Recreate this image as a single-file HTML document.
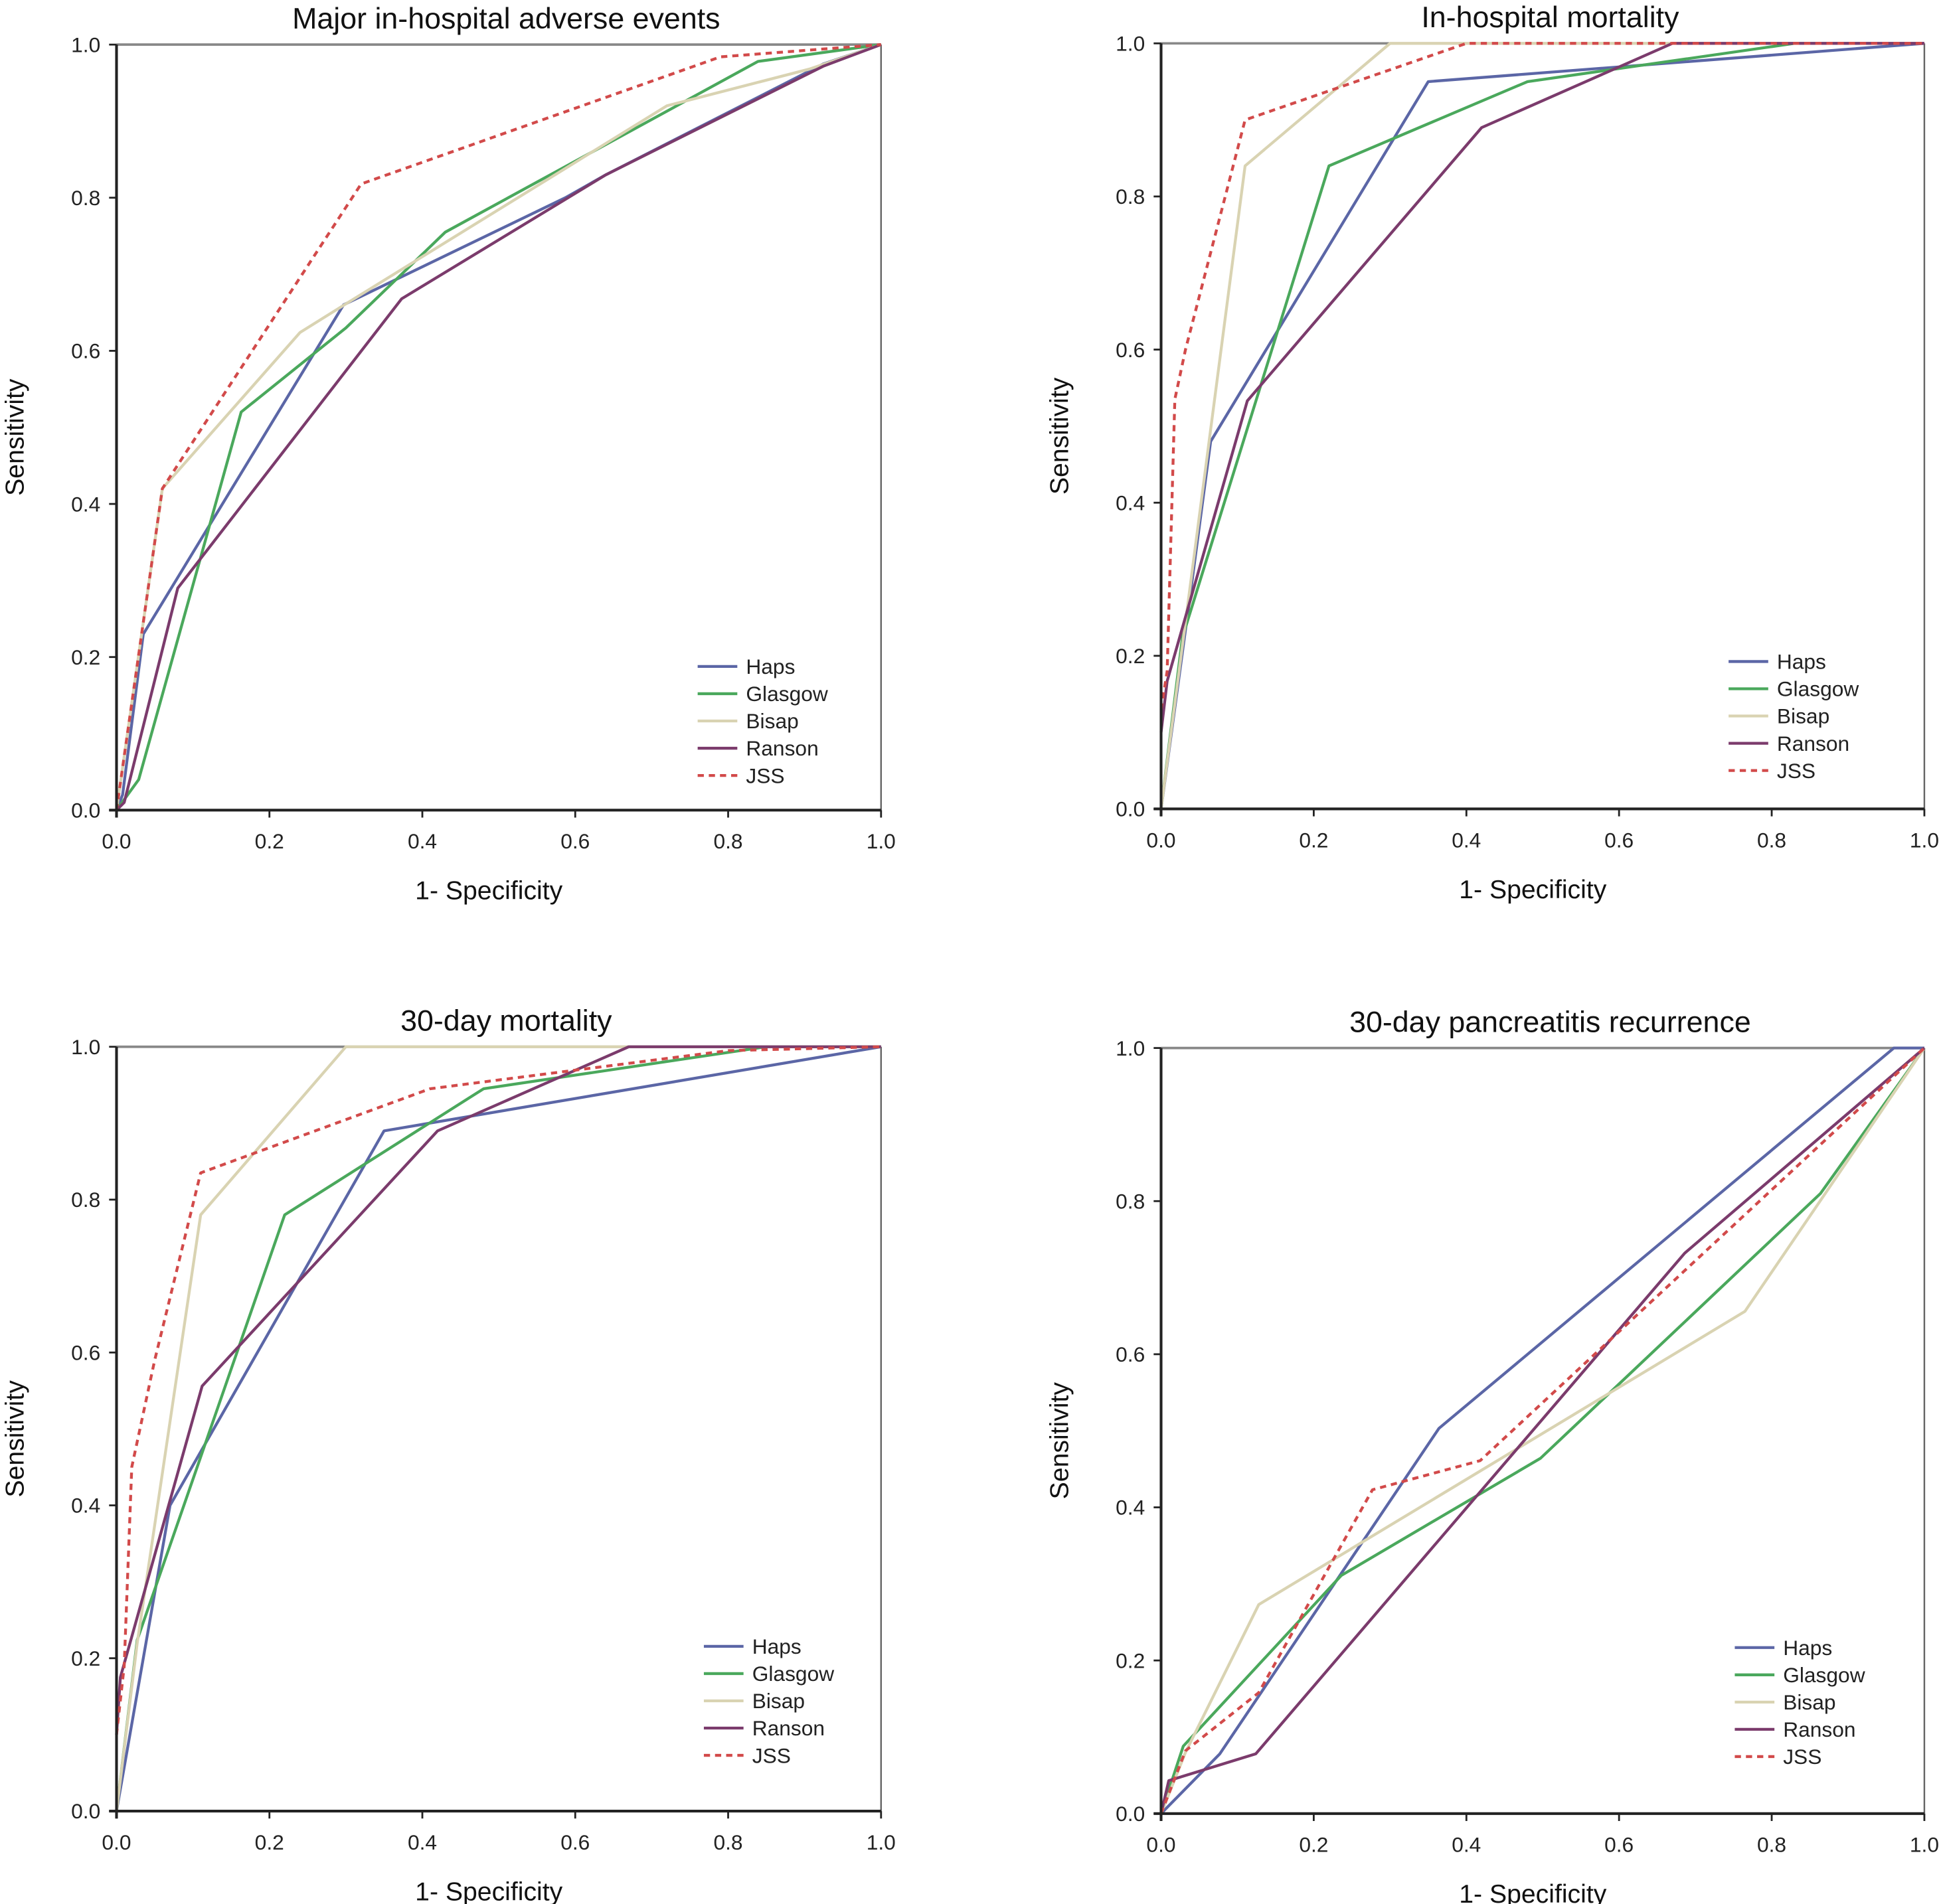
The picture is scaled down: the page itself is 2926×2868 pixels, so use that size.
<!DOCTYPE html>
<html><head><meta charset="utf-8">
<style>
html,body{margin:0;padding:0;background:#fff;}
svg{display:block;font-family:"Liberation Sans",sans-serif;}
</style></head>
<body>
<svg id="chart" width="2926" height="2868" viewBox="0 0 1568 1537" xmlns="http://www.w3.org/2000/svg"></svg>
<script>
// ---------- data ----------
const seriesNames = ["Haps","Glasgow","Bisap","Ranson","JSS"];
const tickValues = [0,0.2,0.4,0.6,0.8,1.0];
const tickLabels = ["0.0","0.2","0.4","0.6","0.8","1.0"];
const panelTitles = ["Major in-hospital adverse events","In-hospital mortality","30-day mortality","30-day pancreatitis recurrence"];

const p1Haps    = [[0,0],[0.008,0.02],[0.035,0.23],[0.297,0.66],[0.587,0.80],[0.64,0.83],[0.925,0.975],[1,1]];
const p1Glasgow = [[0,0],[0.029,0.04],[0.163,0.52],[0.3,0.63],[0.43,0.755],[0.839,0.978],[1,1]];
const p1Bisap   = [[0,0],[0.06,0.42],[0.24,0.624],[0.306,0.665],[0.72,0.92],[0.906,0.968],[1,1]];
const p1Ranson  = [[0,0],[0.01,0.01],[0.08,0.29],[0.373,0.668],[0.64,0.83],[0.925,0.972],[1,1]];
const p1JSS     = [[0,0],[0.06,0.42],[0.32,0.818],[0.79,0.984],[1,1]];

const p2Haps    = [[0,0],[0.038,0.278],[0.065,0.48],[0.35,0.95],[1,1]];
const p2Glasgow = [[0,0],[0.028,0.224],[0.22,0.84],[0.48,0.95],[0.83,1],[1,1]];
const p2Bisap   = [[0,0],[0.11,0.84],[0.3,1],[1,1]];
const p2Ranson  = [[0,0.1],[0.008,0.167],[0.113,0.533],[0.42,0.89],[0.67,1],[1,1]];
const p2JSS     = [[0,0.13],[0.008,0.18],[0.018,0.535],[0.032,0.6],[0.11,0.9],[0.4,1],[1,1]];

const p3Haps    = [[0,0],[0.07,0.40],[0.35,0.89],[1,1]];
const p3Glasgow = [[0,0],[0.027,0.224],[0.22,0.78],[0.48,0.945],[0.85,1],[1,1]];
const p3Bisap   = [[0,0],[0.027,0.22],[0.11,0.78],[0.3,1],[1,1]];
const p3Ranson  = [[0,0.1],[0.005,0.175],[0.112,0.556],[0.42,0.89],[0.67,1],[1,1]];
const p3JSS     = [[0,0.1],[0.01,0.19],[0.02,0.45],[0.05,0.59],[0.11,0.835],[0.41,0.945],[0.8,0.995],[1,1]];

const p4Haps    = [[0,0],[0.077,0.078],[0.364,0.503],[0.96,1],[1,1]];
const p4Glasgow = [[0,0],[0.029,0.088],[0.236,0.311],[0.497,0.464],[0.864,0.81],[1,1]];
const p4Bisap   = [[0,0],[0.032,0.08],[0.128,0.273],[0.765,0.656],[1,1]];
const p4Ranson  = [[0,0],[0.01,0.043],[0.124,0.078],[0.686,0.732],[1,1]];
const p4JSS     = [[0,0],[0.032,0.082],[0.128,0.158],[0.277,0.423],[0.418,0.461],[1,1]];

const panelData = [
  [p1Haps,p1Glasgow,p1Bisap,p1Ranson,p1JSS],
  [p2Haps,p2Glasgow,p2Bisap,p2Ranson,p2JSS],
  [p3Haps,p3Glasgow,p3Bisap,p3Ranson,p3JSS],
  [p4Haps,p4Glasgow,p4Bisap,p4Ranson,p4JSS]
];

// ---------- layout ----------
const colors = ["#5b66a6","#4aa85c","#d9d3b2","#7b3b6c","#d24a4a"];
const layout = [
  {x0:94,x1:711,y0:654,y1:36,legX:563,legY:538},
  {x0:937,x1:1553,y0:653,y1:35,legX:1395,legY:534},
  {x0:94,x1:711,y0:1462,y1:845,legX:568,legY:1329},
  {x0:937,x1:1553,y0:1464,y1:846,legX:1400,legY:1330}
];
const NS="http://www.w3.org/2000/svg";
const svg=document.getElementById('chart');
function mk(tag,attrs,parent){const e=document.createElementNS(NS,tag);for(const k in attrs)e.setAttribute(k,attrs[k]);(parent||svg).appendChild(e);return e;}

layout.forEach((L,pi)=>{
  const g=mk('g',{});
  
  
  const sx=v=>L.x0+v*(L.x1-L.x0);
  const sy=v=>L.y0+v*(L.y1-L.y0);
  // frame
  const rb=mk('line',{x1:L.x1,x2:L.x1,y1:L.y1,y2:L.y0,stroke:'#666','stroke-width':1.3},g);
  
  
  const top=mk('line',{x1:L.x0,x2:L.x1,y1:L.y1,y2:L.y1,stroke:'#888','stroke-width':2},g);
  
  
  // series
  panelData[pi].forEach((pts,si)=>{
    const d=pts.map((p,i)=>(i?'L':'M')+sx(p[0]).toFixed(1)+','+sy(p[1]).toFixed(1)).join(' ');
    const attrs={d:d,fill:'none',stroke:colors[si],'stroke-width':2.3,'stroke-linejoin':'round'};
    if(si===4)attrs['stroke-dasharray']='5,4';
    const path=mk('path',attrs,g);
    
    
  });
  const xa=mk('line',{x1:L.x0-6,x2:L.x1,y1:L.y0,y2:L.y0,stroke:'#222','stroke-width':2.2},g);
  
  
  const ya=mk('line',{x1:L.x0,x2:L.x0,y1:L.y1,y2:L.y0+6,stroke:'#222','stroke-width':2.2},g);
  
  
  // ticks
  tickValues.forEach((t,i)=>{
    mk('line',{x1:sx(t),x2:sx(t),y1:L.y0,y2:L.y0+6,stroke:'#222','stroke-width':1.5},g);
    mk('line',{x1:L.x0-6,x2:L.x0,y1:sy(t),y2:sy(t),stroke:'#222','stroke-width':1.5},g);
    const xl=mk('text',{x:sx(t),y:L.y0+31,'text-anchor':'middle','font-size':17,fill:'#222'},g);
    xl.textContent=tickLabels[i];
    
    
    const yl=mk('text',{x:L.x0-13,y:sy(t)+6,'text-anchor':'end','font-size':17,fill:'#222'},g);
    yl.textContent=tickLabels[i];
    
    
  });
  // titles
  const tt=mk('text',{x:(L.x0+L.x1)/2+6,y:L.y1-13,'text-anchor':'middle','font-size':24,fill:'#111'},g);
  tt.textContent=panelTitles[pi];
  
  
  const xt=mk('text',{x:(L.x0+L.x1)/2-8,y:L.y0+72,'text-anchor':'middle','font-size':21,fill:'#111'},g);
  xt.textContent='1- Specificity';
  
  
  const ycx=L.x0-75, ycy=(L.y0+L.y1)/2+8;
  const yt=mk('text',{x:ycx,y:ycy,'text-anchor':'middle','font-size':21,fill:'#111',transform:`rotate(-90 ${ycx} ${ycy})`},g);
  yt.textContent='Sensitivity';
  
  
  // legend
  seriesNames.forEach((n,si)=>{
    const y=L.legY+si*22;
    const la={x1:L.legX,x2:L.legX+32,y1:y,y2:y,stroke:colors[si],'stroke-width':2.3};
    if(si===4)la['stroke-dasharray']='5,4';
    const ln=mk('line',la,g);
    
    
    const tx=mk('text',{x:L.legX+39,y:y+6,'font-size':17,fill:'#222'},g);
    tx.textContent=n;
    
    
  });
});
</script>
</body></html>
